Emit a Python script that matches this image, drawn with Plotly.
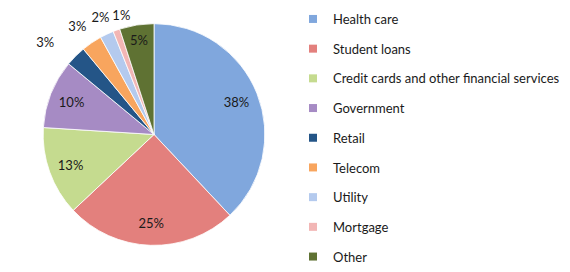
import plotly.graph_objects as go

categories = ["Health care", "Student loans", "Credit cards and other financial services",
              "Government", "Retail", "Telecom", "Utility", "Mortgage", "Other"]
values = [38, 25, 13, 10, 3, 3, 2, 1, 5]
colors = ["#80A7DD", "#E3807D", "#C5DB8F", "#A68BC4", "#245587",
          "#F8A55E", "#B4CAEE", "#F2B6B5", "#5F7233"]
# which slices carry their label inside the pie; the others are labelled outside
inside_label = [True, True, True, True, False, False, False, False, True]

W, H = 570, 272
CX, CY, R = 154, 136.5, 112.5          # pie centre / radius in pixels
# outside-label placement: (radius scale, x shift px, y shift px) for each outside slice
OUT_PLACE = {4: (1.17, -4, 3), 5: (1.07, 3, -5), 6: (1.05, 9, -5.5), 7: (1.03, 19, -5)}

FONT = "Lato"
TXT = "#1a1a1a"


def dom(cx, cy, r):
    return dict(x=[(cx - r) / W, (cx + r) / W], y=[1 - (cy + r) / H, 1 - (cy - r) / H])


common = dict(labels=categories, values=values, sort=False, direction="clockwise", rotation=0)
clear = ["rgba(0,0,0,0)"] * len(values)

fig = go.Figure()
# coloured pie
fig.add_trace(go.Pie(
    **common, domain=dom(CX, CY, R),
    marker=dict(colors=colors, line=dict(color="white", width=0.8)),
    textinfo="none", showlegend=False, hoverinfo="label+percent",
))
# transparent ring carrying the inside labels (placed toward the rim)
fig.add_trace(go.Pie(
    **common, domain=dom(CX, CY, R), hole=0.6,
    marker=dict(colors=clear, line=dict(width=0)),
    texttemplate=["%{percent:.0%}" if f else "" for f in inside_label],
    textposition=["inside" if f else "none" for f in inside_label],
    insidetextorientation="horizontal",
    textfont=dict(family=FONT, size=13, color=TXT),
    showlegend=False, hoverinfo="skip",
))
# one transparent pie per outside label
for k, f in enumerate(inside_label):
    if f:
        continue
    s, sx, sy = OUT_PLACE[k]
    fig.add_trace(go.Pie(
        **common, domain=dom(CX + sx, CY + sy, R * s),
        marker=dict(colors=clear, line=dict(width=0)),
        texttemplate=["%{percent:.0%}" if j == k else "" for j in range(len(values))],
        textposition=["outside" if j == k else "none" for j in range(len(values))],
        textfont=dict(family=FONT, size=13, color=TXT),
        showlegend=False, hoverinfo="skip",
    ))
# legend entries
for i, (c, col) in enumerate(zip(categories, colors)):
    fig.add_trace(go.Scatter(
        x=[None], y=[None], mode="markers", name=c,
        marker=dict(symbol="square", size=8, color=col),
        legendgroup=f"g{i}", showlegend=True,
    ))
fig.update_layout(
    width=W, height=H, margin=dict(l=0, r=0, t=0, b=0),
    paper_bgcolor="white", plot_bgcolor="white",
    xaxis=dict(visible=False), yaxis=dict(visible=False),
    legend=dict(x=293 / W, xanchor="left", y=1 - 4.5 / H, yanchor="top",
                font=dict(family=FONT, size=13, color=TXT),
                tracegroupgap=9.8, bgcolor="rgba(0,0,0,0)"),
    font=dict(family=FONT),
)
fig.write_html("out.html")
